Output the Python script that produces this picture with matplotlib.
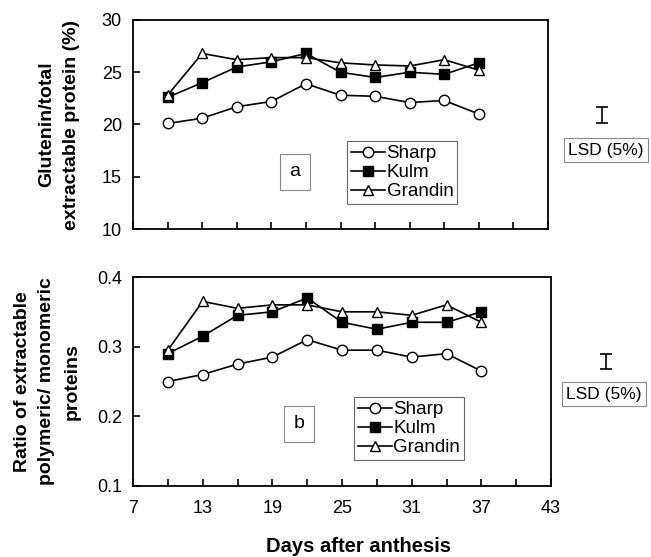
import matplotlib
matplotlib.use("Agg")
import matplotlib.pyplot as plt
import numpy as np

plt.rcParams['font.family'] = ['Liberation Sans', 'DejaVu Sans']

days = [10, 13, 16, 19, 22, 25, 28, 31, 34, 37]

# panel a: glutenin / total extractable protein (%)
sharp_a = [20.1, 20.6, 21.7, 22.2, 23.9, 22.8, 22.7, 22.1, 22.3, 21.0]
kulm_a = [22.6, 24.0, 25.5, 26.0, 26.8, 25.0, 24.5, 25.0, 24.8, 25.9]
grandin_a = [22.8, 26.8, 26.2, 26.4, 26.4, 25.9, 25.7, 25.6, 26.2, 25.2]
lsd_a = 1.5

# panel b: polymeric / monomeric ratio
sharp_b = [0.25, 0.26, 0.275, 0.285, 0.31, 0.295, 0.295, 0.285, 0.29, 0.265]
kulm_b = [0.29, 0.315, 0.345, 0.35, 0.37, 0.335, 0.325, 0.335, 0.335, 0.35]
grandin_b = [0.295, 0.365, 0.355, 0.36, 0.36, 0.35, 0.35, 0.345, 0.36, 0.335]
lsd_b = 0.021

xticks_major = [7, 13, 19, 25, 31, 37, 43]
xticks_minor = [10, 16, 22, 28, 34, 40]

fig = plt.figure(figsize=(6.51, 5.57), dpi=100)
W, H = 651, 557
ax1 = fig.add_axes([133/W, 1-229/H, 415/W, 209/H])
ax2 = fig.add_axes([133/W, 1-486/H, 418/W, 209/H])


def draw(ax, s, k, g, ylim, yticks, ylabel, letter, letter_pos, leg_pos, lsd, lsd_y, lsd_box, lpad, lsp):
    ax.plot(days, s, '-o', color='k', mfc='white', mec='k', ms=7.5, lw=1.2, label='Sharp')
    ax.plot(days, k, '-s', color='k', mfc='k', mec='k', ms=7, lw=1.2, label='Kulm')
    ax.plot(days, g, '-^', color='k', mfc='white', mec='k', ms=7.5, lw=1.2, label='Grandin')
    ax.set_xlim(7, 43)
    ax.set_ylim(*ylim)
    ax.set_yticks(yticks)
    ax.set_xticks(xticks_major)
    ax.set_xticks(xticks_minor, minor=True)
    ax.tick_params(direction='in', length=5, width=1.2, labelsize=13)
    ax.tick_params(which='minor', direction='in', length=5, width=1.2)
    ax.tick_params(axis='y', pad=8)
    ax.tick_params(axis='x', pad=10)
    for sp in ax.spines.values():
        sp.set_linewidth(1.3)
    ax.set_ylabel(ylabel, fontsize=14, fontweight='bold', labelpad=lpad, linespacing=lsp)
    ax.text(letter_pos[0], letter_pos[1], letter, transform=ax.transAxes, fontsize=14,
            ha='center', va='center',
            bbox=dict(boxstyle='square,pad=0.5', fc='white', ec='#888888', lw=0.8))
    leg = ax.legend(loc='lower left', bbox_to_anchor=leg_pos, fontsize=13.5, frameon=True,
                    fancybox=False, edgecolor='#444444', handlelength=1.8, handletextpad=0.1,
                    borderpad=0.2, labelspacing=0.1, borderaxespad=0)
    leg.get_frame().set_linewidth(0.8)
    # LSD bar outside the axes
    ax.errorbar([47.7], [lsd_y], yerr=[[lsd/2], [lsd/2]], fmt='none', ecolor='k',
                capsize=4, elinewidth=1.2, capthick=1.2, clip_on=False)
    fig.text(lsd_box[0], lsd_box[1], 'LSD (5%)', fontsize=12.5, ha='left', va='center',
             bbox=dict(boxstyle='square,pad=0.25', fc='white', ec='#888888', lw=0.8))


draw(ax1, sharp_a, kulm_a, grandin_a, (10, 30), [10, 15, 20, 25, 30],
     'Glutenin/total\nextractable protein (%)', 'a', (0.39, 0.273), (0.516, 0.12),
     lsd_a, 20.9, (568/W, 1-150/H), 16, 1.55)
ax1.tick_params(axis='x', labelbottom=False)

draw(ax2, sharp_b, kulm_b, grandin_b, (0.1, 0.4), [0.1, 0.2, 0.3, 0.4],
     'Ratio of extractable\npolymeric/ monomeric\nproteins', 'b', (0.397, 0.297), (0.529, 0.124),
     lsd_b, 0.279, (566/W, 1-394/H), 12, 1.6)
ax2.set_yticklabels(['0.1', '0.2', '0.3', '0.4'])
ax2.set_xlabel('Days after anthesis', fontsize=14.5, fontweight='bold')
ax2.xaxis.set_label_coords(0.54, -0.245)

fig.savefig('out.png', dpi=100)
